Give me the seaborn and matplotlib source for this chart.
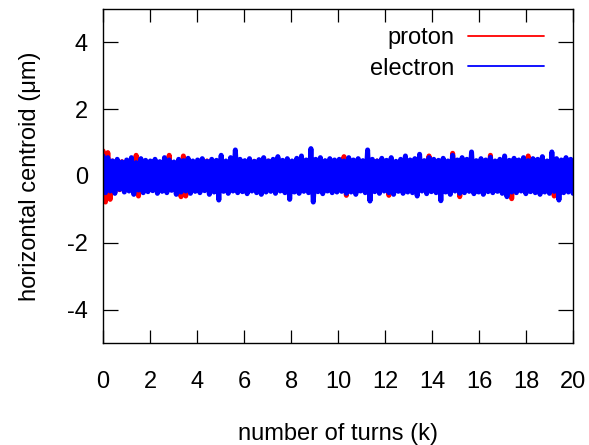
import numpy as np
import pandas as pd
import seaborn as sns
import matplotlib
matplotlib.use("Agg")
import matplotlib.pyplot as plt

# peak (hi) and trough (lo) values of the centroid oscillation, every 0.2k turns
electron_hi = [
    0.60, 0.55, 0.45, 0.50, 0.42, 0.48, 0.55, 0.40, 0.52, 0.47,
    0.45, 0.50, 0.43, 0.55, 0.48, 0.42, 0.50, 0.46, 0.53, 0.45,
    0.48, 0.52, 0.44, 0.50, 0.47, 0.62, 0.45, 0.55, 0.78, 0.50,
    0.46, 0.52, 0.44, 0.49, 0.55, 0.45, 0.50, 0.58, 0.47, 0.52,
    0.45, 0.53, 0.60, 0.48, 0.82, 0.50, 0.55, 0.46, 0.52, 0.48,
    0.50, 0.45, 0.55, 0.48, 0.52, 0.46, 0.78, 0.50, 0.45, 0.53,
    0.47, 0.55, 0.44, 0.50, 0.60, 0.48, 0.52, 0.65, 0.46, 0.55,
    0.50, 0.47, 0.53, 0.45, 0.62, 0.48, 0.55, 0.50, 0.72, 0.46,
    0.52, 0.48, 0.56, 0.45, 0.50, 0.60, 0.47, 0.53, 0.48, 0.55,
    0.46, 0.52, 0.50, 0.58, 0.45, 0.72, 0.52, 0.48, 0.55, 0.50,
]
electron_lo = [
    -0.50, -0.45, -0.52, -0.40, -0.48, -0.45, -0.55, -0.42, -0.50, -0.47,
    -0.44, -0.52, -0.46, -0.50, -0.43, -0.55, -0.48, -0.45, -0.52, -0.46,
    -0.50, -0.44, -0.55, -0.48, -0.72, -0.46, -0.52, -0.45, -0.50, -0.47,
    -0.53, -0.45, -0.50, -0.55, -0.48, -0.46, -0.52, -0.45, -0.50, -0.70,
    -0.48, -0.52, -0.46, -0.50, -0.78, -0.47, -0.53, -0.45, -0.50, -0.48,
    -0.46, -0.52, -0.48, -0.55, -0.45, -0.50, -0.75, -0.47, -0.52, -0.45,
    -0.50, -0.55, -0.46, -0.52, -0.48, -0.50, -0.60, -0.45, -0.53, -0.47,
    -0.50, -0.74, -0.48, -0.55, -0.45, -0.52, -0.50, -0.46, -0.53, -0.48,
    -0.55, -0.47, -0.50, -0.46, -0.52, -0.62, -0.48, -0.50, -0.45, -0.53,
    -0.47, -0.50, -0.55, -0.48, -0.52, -0.46, -0.72, -0.50, -0.48, -0.52,
]
proton_hi = [
    0.75, 0.70, 0.45, 0.40, 0.43, 0.38, 0.42, 0.62, 0.40, 0.44,
    0.41, 0.45, 0.39, 0.43, 0.62, 0.40, 0.44, 0.60, 0.42, 0.38,
    0.43, 0.40, 0.45, 0.41, 0.39, 0.44, 0.42, 0.40, 0.46, 0.41,
    0.43, 0.39, 0.44, 0.40, 0.42, 0.45, 0.41, 0.43, 0.40, 0.44,
    0.42, 0.39, 0.45, 0.41, 0.43, 0.40, 0.44, 0.42, 0.38, 0.43,
    0.41, 0.58, 0.42, 0.40, 0.44, 0.41, 0.43, 0.39, 0.45, 0.42,
    0.40, 0.44, 0.41, 0.43, 0.40, 0.45, 0.42, 0.39, 0.44, 0.60,
    0.42, 0.40, 0.43, 0.41, 0.68, 0.42, 0.40, 0.44, 0.41, 0.43,
    0.40, 0.45, 0.62, 0.41, 0.43, 0.40, 0.44, 0.42, 0.39, 0.45,
    0.60, 0.42, 0.40, 0.44, 0.41, 0.43, 0.40, 0.45, 0.42, 0.44,
]
proton_lo = [
    -0.78, -0.70, -0.45, -0.41, -0.43, -0.39, -0.42, -0.60, -0.40, -0.44,
    -0.42, -0.45, -0.40, -0.43, -0.41, -0.44, -0.62, -0.60, -0.42, -0.39,
    -0.43, -0.41, -0.45, -0.40, -0.42, -0.44, -0.41, -0.43, -0.40, -0.45,
    -0.42, -0.39, -0.44, -0.41, -0.43, -0.40, -0.45, -0.42, -0.40, -0.44,
    -0.41, -0.43, -0.40, -0.45, -0.42, -0.39, -0.44, -0.41, -0.43, -0.40,
    -0.42, -0.58, -0.41, -0.44, -0.40, -0.43, -0.41, -0.45, -0.42, -0.40,
    -0.58, -0.43, -0.41, -0.44, -0.40, -0.42, -0.45, -0.41, -0.43, -0.40,
    -0.44, -0.42, -0.40, -0.43, -0.41, -0.62, -0.42, -0.40, -0.44, -0.41,
    -0.43, -0.40, -0.45, -0.42, -0.41, -0.44, -0.68, -0.40, -0.43, -0.41,
    -0.44, -0.42, -0.40, -0.45, -0.41, -0.60, -0.42, -0.44, -0.40, -0.43,
]
turns = np.linspace(0, 20, 200)  # k turns, alternating peak / trough samples
species = ["proton", "electron"]
colors = {"proton": "#ff0000", "electron": "#0000ff"}

frames = []
for name, hi, lo in [("proton", proton_hi, proton_lo),
                     ("electron", electron_hi, electron_lo)]:
    y = np.column_stack([hi, lo]).ravel()
    frames.append(pd.DataFrame({"turns": turns, "centroid": y, "species": name}))
df = pd.concat(frames, ignore_index=True)

sns.set_style("ticks")
plt.rcParams["font.family"] = ["Liberation Sans", "DejaVu Sans"]
plt.rcParams["axes.unicode_minus"] = False
plt.rcParams["axes.linewidth"] = 1.0
for key in ["text.color", "axes.labelcolor", "xtick.color", "ytick.color",
            "axes.edgecolor"]:
    plt.rcParams[key] = "black"

fig, ax = plt.subplots(figsize=(5.89, 4.45), dpi=100)
fig.subplots_adjust(left=0.175, right=0.973, top=0.980, bottom=0.229)

sns.lineplot(data=df, x="turns", y="centroid", hue="species",
             hue_order=species, palette=colors, estimator=None, sort=False,
             lw=3.6, ax=ax)

ax.set_xlim(0, 20)
ax.set_ylim(-5, 5)
ax.set_xticks(range(0, 21, 2))
ax.set_yticks([-4, -2, 0, 2, 4])
ax.tick_params(axis="both", direction="in", top=True, right=True,
               labelsize=17, width=0.9)
ax.tick_params(axis="x", length=9.5, pad=20)
ax.tick_params(axis="y", length=11, pad=11)

ax.set_xlabel("number of turns (k)", fontsize=17, labelpad=22)
ax.set_ylabel("horizontal centroid (μm)", fontsize=17, labelpad=19)

sns.move_legend(ax, "upper right", bbox_to_anchor=(0.938, 0.945), title=None,
                frameon=False, markerfirst=False, fontsize=17,
                handlelength=3.2, handletextpad=0.6, labelspacing=0.35,
                borderpad=0, borderaxespad=0)
for ln in ax.get_legend().get_lines():
    ln.set_linewidth(1.3)

fig.savefig("out.png", dpi=100)
